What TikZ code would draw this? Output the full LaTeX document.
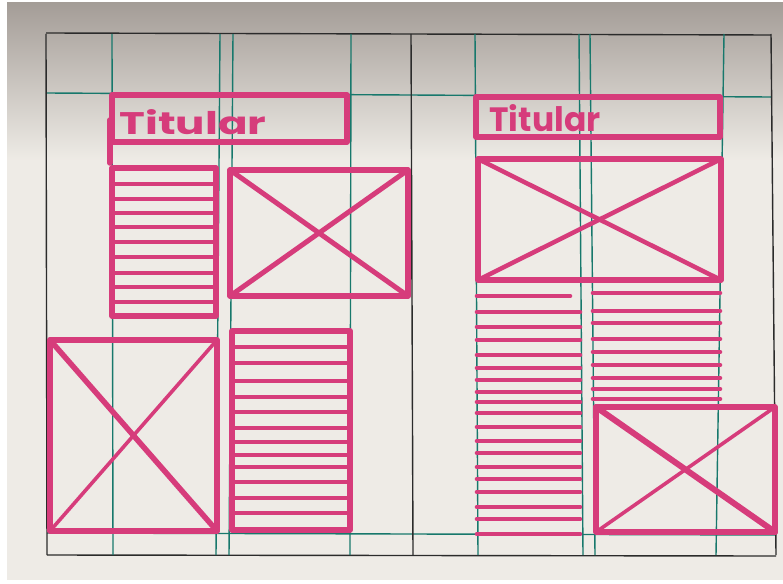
\documentclass[tikz,border=0pt]{standalone}
\usepackage{fontspec}
\usepackage{graphicx}
\setsansfont{Poppins}
\usepackage{tikz}
\usetikzlibrary{calc}
\definecolor{paper}{HTML}{EEEBE6}
\definecolor{shadow}{HTML}{A49D97}
\definecolor{ink}{HTML}{2B2B2B}
\definecolor{gridteal}{HTML}{17786C}
\definecolor{marker}{HTML}{D63C7B}

\tikzset{
  gridline/.style={line width=1.4pt},
  pen/.style={draw=marker, line width=5.5pt, line cap=round, line join=round},
  textrule/.style={draw=marker, line width=4.6pt, line cap=round},
  cross/.style={draw=marker, line width=3.6pt, line cap=round},
  heading/.style={text=marker, inner sep=0pt, font=\sffamily\bfseries},
}

\begin{document}
\begin{tikzpicture}[x=1pt,y=-1pt]
  \useasboundingbox (0,0) rectangle (783,583);
  \fill[white] (0,0) rectangle (783,583);
  \fill[paper] (7,3) rectangle (783,580);
  \shade[top color=shadow, bottom color=paper] (7,3) rectangle (783,160);

  % grid
  \draw[gridline, draw=ink] (46,33) -- (771,35);
  \draw[gridline, draw=ink] (47,555) -- (776,556);
  \draw[gridline, draw=gridteal] (46,93) -- (771,97);
  \draw[gridline, draw=gridteal] (47,533) -- (776,535);
  \foreach \xt/\xb/\c in {46/47/ink, 112/113/gridteal, 220/216/gridteal,
      233/229/gridteal, 351/350/gridteal, 411/413/ink, 475/478/gridteal,
      579/583/gridteal, 590/595/gridteal, 724/716/gridteal, 771/776/ink}
    \draw[gridline, draw=\c] (\xt,34) -- (\xb,555);

  % left page
  \draw[pen] (112,95) rectangle (347,142);
  \draw[pen] (110,120) -- (110,163);
  \node[heading] (titleL) at (193,122) {\resizebox{147pt}{25pt}{Titular}};

  \draw[pen] (112,168) rectangle (216,316);
  \foreach \y in {184,199,213,227,242,257,273,287,302}
    \draw[textrule] (112,\y) -- (216,\y);

  \draw[pen] (230,170) rectangle (408,296);
  \draw[cross, line width=5pt] (230,170) -- (408,296);
  \draw[cross, line width=5pt] (230,296) -- (408,170);

  \draw[pen] (50,340) rectangle (217,531);
  \draw[cross, line width=5.5pt] (50,340) -- (217,531);
  \draw[cross] (50,531) -- (217,340);

  \draw[pen] (232,331) rectangle (350,530);
  \foreach \y in {347,363,381,397,412,428,442,455,467,482,498,513}
    \draw[textrule] (232,\y) -- (350,\y);

  % right page
  \draw[pen] (476,97) rectangle (720,137);
  \node[heading] (titleR) at (545,118) {\resizebox{111pt}{27pt}{Titular}};

  \draw[pen] (478,159) rectangle (721,280);
  \draw[cross, line width=4.5pt] (478,159) -- (721,280);
  \draw[cross, line width=4.5pt] (478,280) -- (721,159);

  \draw[textrule] (477,296) -- (570,296);
  \foreach \y in {312,327,340,355,368,380,392,402,413,427,441,453,467,479,492,507,519,534}
    \draw[textrule] (477,\y) -- (580,\y);

  \foreach \y in {293,311,323,339,352,365,378,389,399}
    \draw[textrule] (593,\y) -- (720,\y);

  \draw[pen] (596,407) rectangle (775,532);
  \draw[cross, line width=6pt] (596,407) -- (775,532);
  \draw[cross] (596,532) -- (775,407);
\end{tikzpicture}
\end{document}
